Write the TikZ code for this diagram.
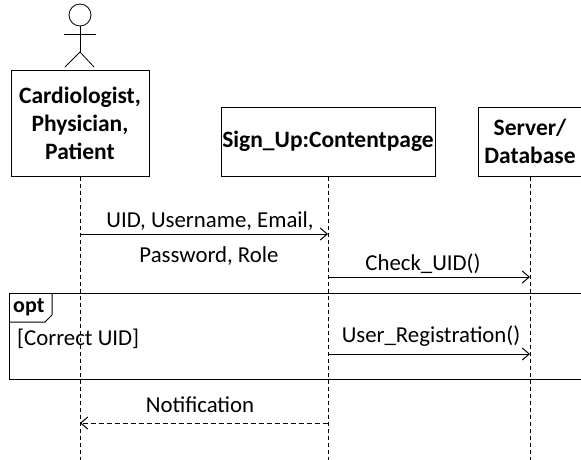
\documentclass[tikz,border=0pt]{standalone}
\usepackage{fontspec}
\setmainfont{Carlito}
\usetikzlibrary{arrows.meta}

\begin{document}
\begin{tikzpicture}[x=1pt, y=-1pt,
    lifebox/.style={draw, line width=1pt, align=center, inner sep=0pt, font=\bfseries\fontsize{23.5}{28}\selectfont},
    lifeline/.style={line width=0.8pt, dash pattern=on 4pt off 3pt},
    msg/.style={line width=1pt, -{Straight Barb[length=7pt, width=12pt]}},
    reply/.style={msg, dash pattern=on 5pt off 3pt},
    lbl/.style={inner sep=0pt, font=\fontsize{22.8}{26}\selectfont}]
    \useasboundingbox (0,0) rectangle (581,459);
    \clip (0,0) rectangle (581,459);

    % Actor
    \draw[line width=0.8pt] (80,15) circle[radius=11pt];
    \draw[line width=0.8pt] (80,26) -- (80,52) (64,34) -- (96,34);
    \draw[line width=0.8pt] (65,67) -- (80,52) -- (94,67);

    % Lifeline heads
    \node[lifebox, minimum width=138, minimum height=106] (user) at (80,123) {Cardiologist,\\Physician,\\Patient};
    \node[lifebox, minimum width=214, minimum height=69] (page) at (328,141.5) {Sign\_Up:Contentpage};
    \node[lifebox, minimum width=104, minimum height=69] (db) at (530,141.5) {Server/\\Database};

    % Lifelines
    \foreach \n in {user, page, db} {
        \draw[lifeline] (\n.south) -- (\n.south |- 0,462);
    }

    % opt fragment
    \draw[line width=1pt] (590,293) -- (9,293) -- (9,379) -- (590,379);
    \draw[line width=1pt] (9,322) -- (45,322) -- (52,315) -- (52,293);
    \node[anchor=west, inner sep=0pt, font=\bfseries\fontsize{22}{26}\selectfont] (opt) at (13,307) {opt};
    \node[lbl, anchor=west] (guard) at (17,339) {[Correct UID]};

    % Messages
    \draw[msg] (user.south |- 0,234) -- (page.south |- 0,234);
    \node[lbl] (m1a) at (210,221) {UID, Username, Email,};
    \node[lbl] (m1b) at (209,256) {Password, Role};

    \draw[msg] (page.south |- 0,277) -- (db.south |- 0,277);
    \node[lbl] (m2) at (423,264) {Check\_UID()};

    \draw[msg] (page.south |- 0,354) -- (db.south |- 0,354);
    \node[lbl] (m3) at (431,336) {User\_Registration()};

    \draw[reply] (page.south |- 0,423) -- (user.south |- 0,423);
    \node[lbl] (m4) at (200,405) {Notification};
\end{tikzpicture}
\end{document}
